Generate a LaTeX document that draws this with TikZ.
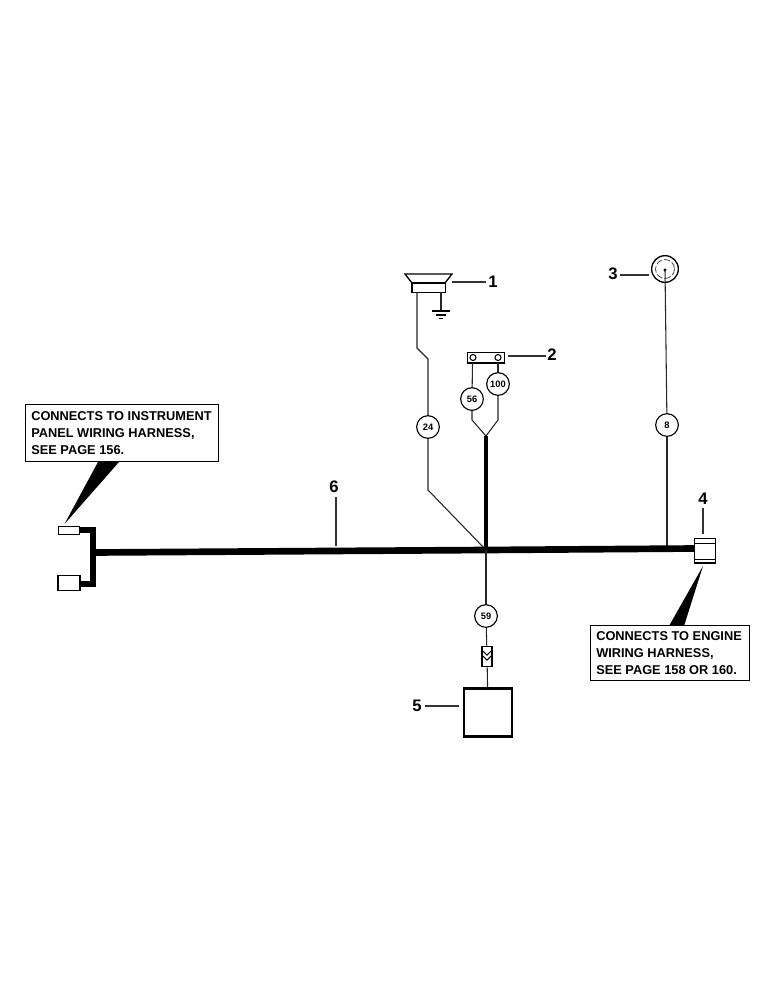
\documentclass[tikz,border=0pt]{standalone}
\usepackage{fontspec}
\setmainfont{Liberation Sans}
\tikzset{
  x=0.75pt,y=-0.75pt,
  wire/.style={draw=black!85,line width=0.8pt},
  leader/.style={draw=black!80,line width=0.8pt},
  harness/.style={draw=black,line width=5pt},
  bundle/.style={draw=black,line width=3pt},
  callno/.style={circle,draw=black,line width=0.85pt,fill=white,minimum size=17pt,inner sep=0pt,font=\bfseries\fontsize{7}{8}\selectfont},
  partno/.style={font=\bfseries\fontsize{12.5}{12}\selectfont,inner sep=0pt},
  note/.style={draw=black,line width=0.8pt,fill=white,inner sep=0pt,anchor=north west},
  notetext/.style={font=\bfseries\fontsize{9.6}{12.75}\selectfont,align=left,inner sep=0pt,anchor=west},
  plug/.style={draw=black,line width=0.8pt,fill=white,inner sep=0pt},
}
\begin{document}
\begin{tikzpicture}
\useasboundingbox[fill=white] (0,0) rectangle (772,1000);
% numbered circles
\node[callno] (c24) at (428,427) {24};
\node[callno] (c56) at (472,399) {56};
\node[callno] (c100) at (498,384) {100};
\node[callno] (c8) at (667,425) {8};
\node[callno] (c59) at (486,616) {59};
% free coordinates
\coordinate (hub) at (486,550);
\coordinate (fork) at (486,436);
\coordinate (hL) at (93,552.5);
\coordinate (hR) at (695,548.5);
\coordinate (bt) at (93,530);
\coordinate (bb) at (93,584);
% speaker
\draw[plug,line width=1pt] (405,274) -- (452,274) -- (445,283) -- (412,283) -- cycle;
\node[plug,line width=1pt,minimum width=25pt,minimum height=7pt] (spk) at (428.5,287.5) {};
\coordinate (gnd) at (441,311);
\draw[wire] (441,292) -- (gnd);
\draw[line width=0.8pt] (432,311) -- (450,311) (436,315) -- (446,315) (439,318.5) -- (443,318.5);
\draw[wire] (417,292) -- (417,348) -- (428,359) -- (c24);
\draw[wire] (c24) -- (428,490) -- (hub);
% item 2
\node[plug,line width=1pt,minimum width=28pt,minimum height=8pt] (sw) at (486,357.5) {};
\node[circle,draw,line width=0.8pt,fill=white,minimum size=4.5pt,inner sep=0pt] (swa) at (473,357.5) {};
\node[circle,draw,line width=0.8pt,fill=white,minimum size=4.5pt,inner sep=0pt] (swb) at (498,357.5) {};
\draw[wire] (472.5,363) -- (c56);
\draw[wire] (498,363) -- (c100);
\draw[wire] (c56) -- (472,420) -- (fork);
\draw[wire] (c100) -- (498,420) -- (fork);
\draw[bundle] (fork) -- (hub);
% item 3
\node[circle,draw=black,line width=1pt,minimum size=20pt,inner sep=0pt] (gauge) at (665,269) {};
\draw[black!70,line width=0.6pt,dash pattern=on 5pt off 1.5pt] (665,269) circle[radius=9.5];
\fill (665,270) circle[radius=1.6];
\coordinate (gc) at (665,270);
\draw[wire] (gc) -- (c8);
\draw[wire] (c8) -- (667,546);
% harness
\draw[harness] (hL) -- (hub) -- (hR);
\draw[harness,line cap=butt] (78,530) -- (bt) -- (bb) -- (78,584);
% plugs
\node[plug,minimum width=16pt,minimum height=6.5pt] (pTop) at (69,530.5) {};
\node[plug,minimum width=16.5pt,minimum height=11pt] (pBot) at (69,583) {};
\node[plug,line width=1pt,minimum width=16pt,minimum height=18.5pt] (conn4) at (705,550.5) {};
\draw[line width=0.7pt] (694,543) -- (716,543) (694,559) -- (716,559);
% wedges and notes
\fill (64.5,524) -- (98,462) -- (119,462) -- cycle;
\fill (703,566) -- (669,626) -- (684,626) -- cycle;
\node[note,minimum width=145pt,minimum height=43pt] (n1) at (25,404) {};
\node[notetext] (n1t) at (31,433.5) {CONNECTS TO INSTRUMENT\\PANEL WIRING HARNESS,\\SEE PAGE 156.};
\node[note,minimum width=119pt,minimum height=41.5pt] (n2) at (590,625) {};
\node[notetext] (n2t) at (596,653.5) {CONNECTS TO ENGINE\\WIRING HARNESS,\\SEE PAGE 158 OR 160.};
% item 5
\node[draw=black,line width=1.6pt,fill=white,minimum width=36.5pt,minimum height=36pt,inner sep=0pt] (box5) at (488,712.5) {};
\node[plug,minimum width=7.5pt,minimum height=15.5pt] (fuse) at (487,656.5) {};
\draw[line width=0.8pt] (483,651) -- (487,655) -- (491,651) (483,656) -- (487,660) -- (491,656);
\draw[wire] (hub) -- (c59);
\draw[wire] (c59) -- (fuse);
\draw[wire] (fuse) -- (box5);
% part numbers and leaders
\node[partno] (l1) at (493,281.5) {1};
\coordinate (l1a) at (452,282);
\coordinate (l1b) at (486,282);
\draw[leader] (l1a) -- (l1b);
\node[partno] (l2) at (552,355) {2};
\coordinate (l2a) at (508,356);
\coordinate (l2b) at (546,356);
\draw[leader] (l2a) -- (l2b);
\node[partno] (l3) at (613,273.5) {3};
\coordinate (l3a) at (620,275);
\coordinate (l3b) at (649,275);
\draw[leader] (l3a) -- (l3b);
\node[partno] (l4) at (703,499) {4};
\coordinate (l4a) at (703,508);
\coordinate (l4b) at (703,534);
\draw[leader] (l4a) -- (l4b);
\node[partno] (l5) at (417,706) {5};
\coordinate (l5a) at (425,706);
\coordinate (l5b) at (459,706);
\draw[leader] (l5a) -- (l5b);
\node[partno] (l6) at (334,487) {6};
\coordinate (l6a) at (336,497);
\coordinate (l6b) at (336,546);
\draw[leader] (l6a) -- (l6b);
\end{tikzpicture}
\end{document}
